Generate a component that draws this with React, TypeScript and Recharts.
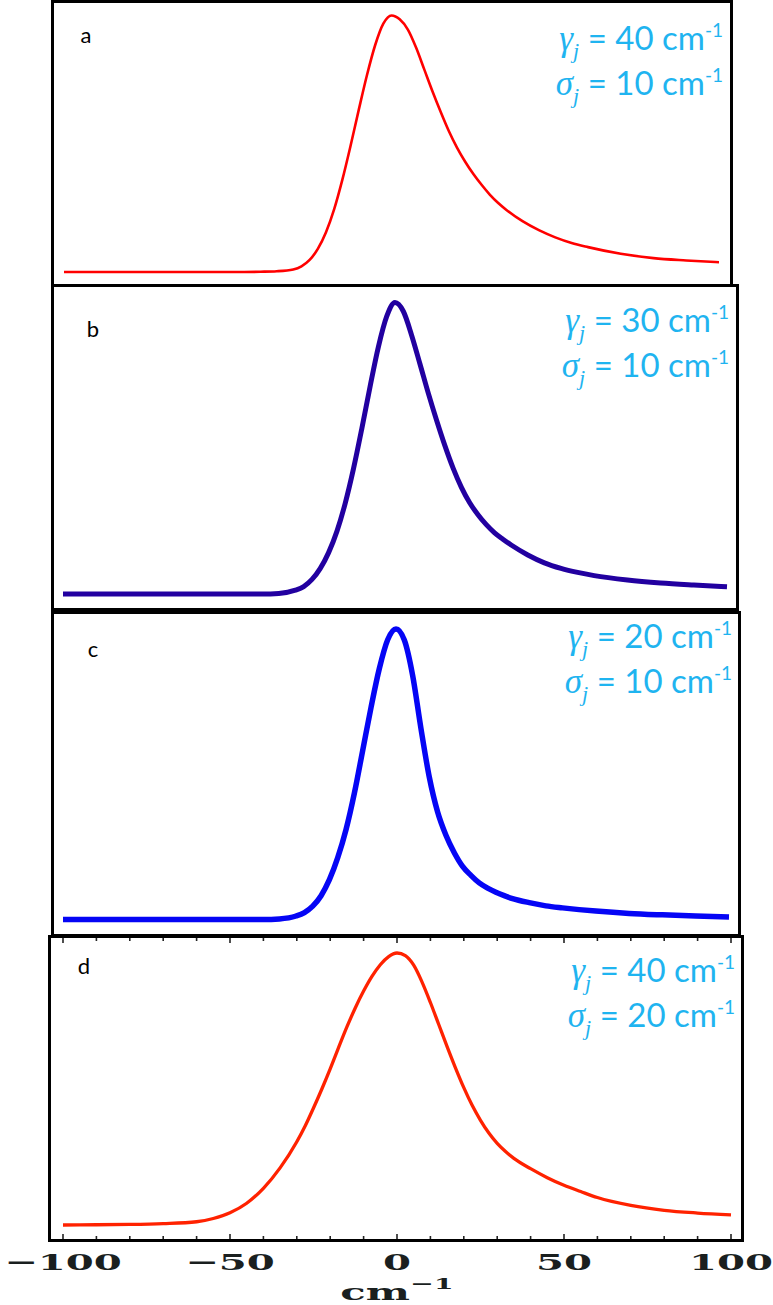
import React from 'react';
import { LineChart, Line, XAxis, YAxis } from 'recharts';

// Normalised line shapes, sampled in wavenumber offset (cm^-1)
const shifts = [-100, -90, -80, -70, -60, -55, -50, -45, -40, -35, -30, -27.5, -25, -22.5, -20, -17.5, -15, -12.5, -10, -7.5, -5, -2.5, 0, 2.5, 5, 7.5, 10, 12.5, 15, 17.5, 20, 22.5, 25, 27.5, 30, 32.5, 35, 40, 45, 50, 55, 60, 70, 80, 90, 100];

const profileA = [0, 0, 0, 0, 0, 0, 0, 0, 0.001, 0.003, 0.01, 0.022, 0.047, 0.09, 0.155, 0.245, 0.36, 0.492, 0.632, 0.767, 0.884, 0.968, 1, 0.985, 0.945, 0.875, 0.79, 0.705, 0.625, 0.55, 0.485, 0.43, 0.382, 0.34, 0.302, 0.27, 0.243, 0.198, 0.163, 0.135, 0.113, 0.097, 0.071, 0.054, 0.045, 0.038];
const profileB = [0, 0, 0, 0, 0, 0, 0, 0, 0, 0.002, 0.013, 0.0255, 0.05, 0.088, 0.142, 0.215, 0.311, 0.43, 0.567, 0.712, 0.848, 0.952, 1, 0.97, 0.888, 0.79, 0.69, 0.597, 0.51, 0.432, 0.366, 0.313, 0.272, 0.238, 0.21, 0.188, 0.168, 0.134, 0.107, 0.088, 0.074, 0.063, 0.048, 0.038, 0.031, 0.025];
const profileC = [0, 0, 0, 0, 0, 0, 0, 0, 0, 0.002, 0.012, 0.024, 0.046, 0.082, 0.137, 0.213, 0.31, 0.435, 0.582, 0.73, 0.864, 0.963, 1, 0.962, 0.84, 0.657, 0.49, 0.37, 0.29, 0.23, 0.183, 0.152, 0.126, 0.108, 0.094, 0.082, 0.072, 0.058, 0.047, 0.04, 0.034, 0.029, 0.021, 0.016, 0.012, 0.009];
const profileD = [0, 0.001, 0.002, 0.005, 0.012, 0.024, 0.045, 0.08, 0.135, 0.21, 0.306, 0.364, 0.43, 0.5, 0.574, 0.652, 0.728, 0.798, 0.86, 0.914, 0.957, 0.987, 1, 0.99, 0.955, 0.893, 0.818, 0.737, 0.656, 0.578, 0.505, 0.44, 0.385, 0.338, 0.3, 0.27, 0.245, 0.207, 0.174, 0.146, 0.123, 0.101, 0.072, 0.054, 0.044, 0.037];

const panelLetters = ['a', 'b', 'c', 'd'];
const gammaValues = [40, 30, 20, 40];
const sigmaValues = [10, 10, 10, 20];

const axisTicks = [-100, -90, -80, -70, -60, -50, -40, -30, -20, -10, 0, 10, 20, 30, 40, 50, 60, 70, 80, 90, 100];
const axisLabels = [-100, -50, 0, 50, 100];

const rows = shifts.map((x, i) => ({
  x,
  a: profileA[i],
  b: profileB[i],
  c: profileC[i],
  d: profileD[i],
}));

const PAGE_W = 773;
const PAGE_H = 1305;
const FRAME = 3;
const PARAM_COLOR = '#1fb4f0';

interface PanelLayout {
  key: 'a' | 'b' | 'c' | 'd';
  box: { left: number; top: number; width: number; height: number };
  x0: number; // pixel of -100
  x1: number; // pixel of +100
  yPeak: number;
  yBase: number;
  stroke: string;
  strokeWidth: number;
  letterX: number;
  letterY: number;
  textRight: number;
  gammaY: number;
}

const layouts: PanelLayout[] = [
  { key: 'a', box: { left: 51, top: 0, width: 682, height: 287 }, x0: 64, x1: 719, yPeak: 15.5, yBase: 272, stroke: '#ff0000', strokeWidth: 2.6, letterX: 86, letterY: 43, textRight: 723, gammaY: 50 },
  { key: 'b', box: { left: 51, top: 284, width: 688, height: 327 }, x0: 63, x1: 727, yPeak: 302.5, yBase: 594, stroke: '#2200a0', strokeWidth: 5, letterX: 93, letterY: 337, textRight: 729, gammaY: 332 },
  { key: 'c', box: { left: 51, top: 611, width: 690, height: 326 }, x0: 63, x1: 729, yPeak: 629, yBase: 919.5, stroke: '#0505f5', strokeWidth: 5.5, letterX: 93, letterY: 657, textRight: 732, gammaY: 648 },
  { key: 'd', box: { left: 48, top: 935, width: 696, height: 307 }, x0: 63, x1: 731, yPeak: 953, yBase: 1225, stroke: '#ff2200', strokeWidth: 3.3, letterX: 84, letterY: 974, textRight: 735, gammaY: 982 },
];

const formatShift = (v: number) => (v < 0 ? `\u2212${Math.abs(v)}` : String(v));

// inward ticks on both frame edges, numbers under the frame
const makeTick = (toBottom: number, toTop: number) => (props: any) => {
  const { x, y, payload } = props;
  const v = payload.value as number;
  const major = axisLabels.includes(v);
  const len = major ? 5 : 3;
  return (
    <g>
      <line x1={x} x2={x} y1={y + toBottom} y2={y + toBottom - len} stroke="#222" strokeWidth={1.6} />
      <line x1={x} x2={x} y1={y + toTop} y2={y + toTop + len} stroke="#222" strokeWidth={1.6} />
      {major && (
        <g transform={`translate(${x},${y + toBottom + 31})`}>
          <text
            x={0}
            y={0}
            textAnchor="middle"
            transform="scale(1.75,1)"
            fontFamily="'DejaVu Serif', serif"
            fontWeight="bold"
            fontSize={23}
            fill="#1a1f1f"
          >
            {formatShift(v)}
          </text>
        </g>
      )}
    </g>
  );
};

const ParamText: React.FC<{ x: number; y: number; symbol: string; value: number }> = ({ x, y, symbol, value }) => (
  <text x={x} y={y} textAnchor="end" fill={PARAM_COLOR} fontFamily="Lato, sans-serif" fontSize={33}>
    <tspan fontFamily="'Liberation Serif', serif" fontStyle="italic" fontSize={35}>{symbol}</tspan>
    <tspan fontFamily="'Liberation Serif', serif" fontStyle="italic" fontSize={22} dy={8}>j</tspan>
    <tspan dy={-8}>{` = ${value} cm`}</tspan>
    <tspan fontSize={19} dy={-13}>-1</tspan>
  </text>
);

const Panel: React.FC<{ layout: PanelLayout; index: number; showAxis: boolean }> = ({ layout, index, showAxis }) => {
  const { box } = layout;
  // the chart spans the page width; vertically it starts at the inner frame edge
  const originY = box.top + FRAME;
  const innerBottom = box.top + box.height - FRAME;
  const chartH = showAxis ? PAGE_H - originY : innerBottom - originY;
  const axisH = showAxis ? PAGE_H - layout.yBase : 0;

  const margin = {
    top: layout.yPeak - originY,
    left: layout.x0,
    right: PAGE_W - layout.x1,
    bottom: showAxis ? 0 : innerBottom - layout.yBase,
  };

  const tick = makeTick(innerBottom - layout.yBase, originY - layout.yBase);

  return (
    <>
      <div
        style={{
          position: 'absolute',
          left: box.left,
          top: box.top,
          width: box.width,
          height: box.height,
          border: `${FRAME}px solid #000`,
          boxSizing: 'border-box',
        }}
      />
      <div style={{ position: 'absolute', left: 0, top: originY }}>
        <LineChart width={PAGE_W} height={chartH} data={rows} margin={margin}>
          {showAxis ? (
            <XAxis
              dataKey="x"
              type="number"
              domain={[-100, 100]}
              ticks={axisTicks}
              interval={0}
              height={axisH}
              tickSize={0}
              tickMargin={0}
              axisLine={false}
              tickLine={false}
              tick={tick}
            />
          ) : (
            <XAxis dataKey="x" type="number" domain={[-100, 100]} hide />
          )}
          <YAxis type="number" domain={[0, 1]} hide />
          <Line
            type="monotone"
            dataKey={layout.key}
            stroke={layout.stroke}
            strokeWidth={layout.strokeWidth}
            dot={false}
            activeDot={false}
            isAnimationActive={false}
          />
          <text
            x={layout.letterX}
            y={layout.letterY - originY}
            textAnchor="middle"
            fontFamily="Lato, sans-serif"
            fontSize={22}
            fill="#000"
          >
            {panelLetters[index]}
          </text>
          <ParamText x={layout.textRight} y={layout.gammaY - originY} symbol={'\u03b3'} value={gammaValues[index]} />
          <ParamText x={layout.textRight} y={layout.gammaY + 45 - originY} symbol={'\u03c3'} value={sigmaValues[index]} />
          {showAxis && (
            <g transform={`translate(${(layout.x0 + layout.x1) / 2},${1300 - originY})`}>
              <text
                x={0}
                y={0}
                textAnchor="middle"
                transform="scale(1.9,1)"
                fontFamily="'DejaVu Serif', serif"
                fontWeight="bold"
                fontSize={22}
                fill="#1a1f1f"
              >
                cm
                <tspan fontSize={15} dy={-11}>{'\u22121'}</tspan>
              </text>
            </g>
          )}
        </LineChart>
      </div>
    </>
  );
};

export default function App() {
  return (
    <div style={{ position: 'absolute', left: 0, top: 0, width: PAGE_W, height: PAGE_H, background: '#fff', overflow: 'hidden' }}>
      {layouts.map((layout, i) => (
        <Panel key={layout.key} layout={layout} index={i} showAxis={i === layouts.length - 1} />
      ))}
    </div>
  );
}
